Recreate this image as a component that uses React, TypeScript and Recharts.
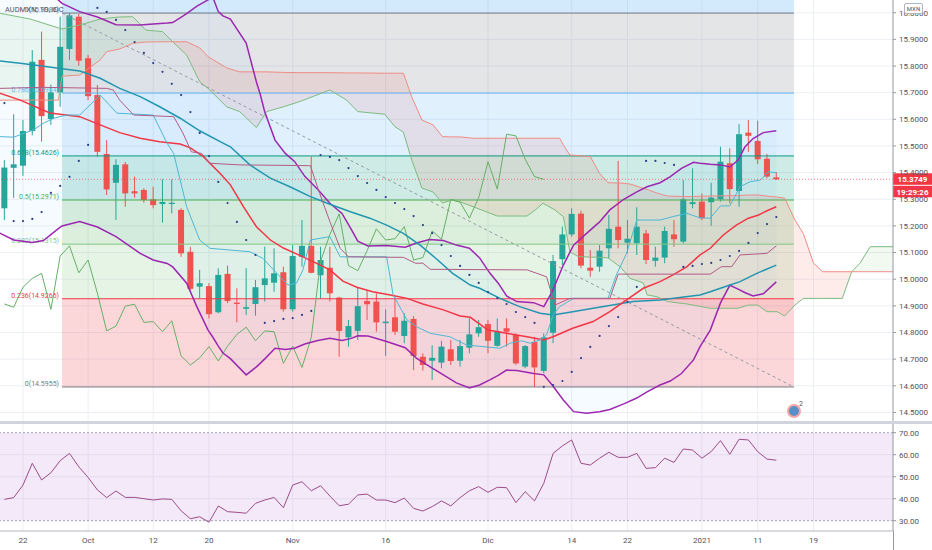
import {
  ComposedChart,
  Bar,
  Line,
  Area,
  XAxis,
  YAxis,
  CartesianGrid,
  ReferenceArea,
  ReferenceLine
} from 'recharts';

// one slot per weekday, bar 0 = 22 Sep 2020
const FIRST_BAR = -2;
const X_DOMAIN: [number, number] = [-2.473, 93.548];
const PRICE_DOMAIN: [number, number] = [14.4679, 16.0477];
const RSI_DOMAIN: [number, number] = [25.32, 73.95];

const dateTicks = [0, 7, 14, 20, 29, 39, 50, 59, 65, 73, 79, 85];
const dateLabels = ['22', 'Oct', '12', '20', 'Nov', '16', 'Dic', '14', '22', '2021', '11', '19'];
const priceTicks = [14.5, 14.6, 14.7, 14.8, 14.9, 15.0, 15.1, 15.2, 15.3, 15.4, 15.5, 15.6, 15.7, 15.8, 15.9, 16.0];
const rsiTicks = [30, 40, 50, 60, 70];

const opens = [
  15.266, 15.418, 15.426, 15.556, 15.823, 15.601, 15.701, 15.864, 15.985, 15.829,
  15.691, 15.47, 15.362, 15.431, 15.33, 15.335, 15.3, 15.282, 15.282, 15.26,
  15.103, 14.972, 14.974, 14.876, 15.02, 14.912, 14.889, 14.907, 14.978, 14.987,
  15.026, 14.887, 15.084, 15.125, 15.015, 15.043, 14.931, 14.782, 14.806, 14.918,
  14.916, 14.835, 14.857, 14.787, 14.851, 14.709, 14.694, 14.687, 14.737, 14.694,
  14.743, 14.797, 14.832, 14.75, 14.816, 14.791, 14.672, 14.764, 14.656, 14.799,
  15.075, 15.168, 15.246, 15.043, 15.047, 15.116, 15.197, 15.137, 15.135, 15.172,
  15.069, 15.081, 15.168, 15.141, 15.282, 15.291, 15.289, 15.3, 15.435, 15.331,
  15.55, 15.519, 15.452, 15.382
];
const highs = [
  15.447, 15.619, 15.597, 15.86, 15.929, 15.73, 15.985, 15.9986, 15.995, 15.841,
  15.729, 15.522, 15.45, 15.44, 15.385, 15.341, 15.347, 15.375, 15.375, 15.266,
  15.122, 15.035, 14.985, 15.041, 15.051, 14.966, 15.041, 14.997, 15.122, 15.116,
  15.047, 15.128, 15.222, 15.46, 15.122, 15.122, 14.934, 14.847, 14.97, 14.957,
  14.947, 14.887, 14.934, 14.872, 14.862, 14.722, 14.752, 14.769, 14.772, 14.772,
  14.853, 14.847, 14.847, 14.853, 14.853, 14.797, 14.753, 14.784, 14.797, 15.091,
  15.197, 15.266, 15.257, 15.11, 15.128, 15.241, 15.444, 15.222, 15.27, 15.185,
  15.122, 15.197, 15.222, 15.372, 15.416, 15.322, 15.362, 15.497, 15.491, 15.582,
  15.597, 15.595, 15.47, 15.402
];
const lows = [
  15.222, 15.305, 15.388, 15.54, 15.516, 15.579, 15.647, 15.823, 15.801, 15.672,
  15.46, 15.316, 15.222, 15.272, 15.306, 15.287, 15.266, 15.212, 15.247, 15.084,
  14.959, 14.928, 14.853, 14.872, 14.91, 14.838, 14.866, 14.863, 14.916, 14.953,
  14.878, 14.878, 15.047, 15.022, 14.928, 14.916, 14.709, 14.747, 14.772, 14.847,
  14.803, 14.712, 14.791, 14.76, 14.659, 14.657, 14.622, 14.666, 14.678, 14.672,
  14.722, 14.784, 14.722, 14.747, 14.747, 14.678, 14.666, 14.5955, 14.647, 14.76,
  15.053, 15.159, 15.041, 15.009, 15.028, 15.078, 15.116, 15.097, 15.091, 15.057,
  15.047, 15.06, 15.122, 15.135, 15.266, 15.222, 15.2, 15.291, 15.285, 15.272,
  15.478, 15.432, 15.379, 15.372
];
const closes = [
  15.419, 15.431, 15.556, 15.816, 15.612, 15.701, 15.872, 15.99, 15.82, 15.687,
  15.478, 15.337, 15.429, 15.322, 15.322, 15.297, 15.278, 15.29, 15.287, 15.097,
  14.964, 14.985, 14.869, 15.016, 14.918, 14.907, 14.895, 14.97, 15.003, 15.022,
  14.887, 15.087, 15.125, 15.024, 15.072, 14.947, 14.806, 14.824, 14.899, 14.906,
  14.838, 14.841, 14.803, 14.844, 14.712, 14.678, 14.705, 14.747, 14.693, 14.749,
  14.793, 14.82, 14.769, 14.806, 14.803, 14.684, 14.749, 14.669, 14.782, 15.068,
  15.168, 15.245, 15.051, 15.032, 15.107, 15.189, 15.147, 15.152, 15.197, 15.072,
  15.081, 15.181, 15.15, 15.3, 15.289, 15.229, 15.306, 15.441, 15.338, 15.544,
  15.538, 15.45, 15.385, 15.3749
];

const parabolicSar = [
  15.661, 15.218, 15.218, 15.226, 15.252, 15.324, 15.35, 15.384, 15.444, 15.504,
  16.018, 16.003, 15.973, 15.935, 15.89, 15.849, 15.811, 15.778, 15.733, 15.691,
  15.627, 15.549, 15.462, 15.365, 15.286, 15.215, 15.147, 15.091, 14.836, 14.843,
  14.851, 14.854, 14.866, 14.881, 15.466, 15.459, 15.447, 15.417, 15.387, 15.361,
  15.335, 15.308, 15.286, 15.263, 15.237, 15.203, 15.173, 15.128, 15.087, 15.05,
  15.016, 14.986, 14.952, 14.929, 14.907, 14.877, 14.858, 14.836, 14.596, 14.603,
  14.618, 14.652, 14.704, 14.746, 14.787, 14.824, 14.858, 14.915, 14.971, 15.444,
  15.444, 15.436, 15.429, 15.046, 15.05, 15.057, 15.061, 15.072, 15.087, 15.106,
  15.136, 15.173, 15.207, 15.233
];

const rsiValues = [
  39.7, 40.5, 46.2, 56.1, 48.5, 51.8, 57.3, 60.6, 54.5, 49.7,
  44.0, 40.5, 43.5, 40.6, 40.6, 40.0, 39.4, 39.9, 39.7, 34.5,
  30.9, 31.8, 29.3, 36.7, 34.1, 33.8, 33.4, 37.9, 39.4, 40.6,
  35.9, 46.2, 47.7, 43.6, 45.9, 41.2, 36.8, 37.5, 41.7, 42.1,
  39.4, 39.4, 38.2, 40.3, 35.6, 34.4, 36.4, 39.0, 36.7, 40.5,
  43.6, 45.5, 42.9, 45.2, 45.0, 38.2, 43.2, 39.0, 47.0, 60.6,
  64.0, 66.7, 56.1, 55.3, 58.4, 61.1, 58.8, 58.8, 60.6, 53.8,
  54.1, 58.4, 56.5, 62.6, 62.1, 58.4, 61.4, 66.4, 60.2, 67.0,
  66.7, 61.4, 58.0, 57.5
];

// [bar, price]
const basisSma: [number, number][] = [
  [-2.5, 15.698], [-0.3, 15.672], [2.9, 15.624], [6.1, 15.61], [8.3, 15.579], [10.4, 15.55],
  [12.6, 15.529], [14.7, 15.516], [16.9, 15.507], [18.0, 15.493], [19.4, 15.46], [21.2, 15.397],
  [22.3, 15.354], [23.7, 15.272], [25.1, 15.197], [26.6, 15.147], [28.0, 15.117], [29.4, 15.095],
  [31.2, 15.066], [33.0, 15.035], [34.4, 14.993], [35.9, 14.97], [37.6, 14.953], [39.5, 14.941],
  [41.3, 14.928], [43.0, 14.907], [45.2, 14.885], [47.0, 14.862], [48.1, 14.857], [50.0, 14.809],
  [52.0, 14.797], [54.2, 14.784], [56.0, 14.772], [57.0, 14.784], [59.1, 14.816], [61.3, 14.841],
  [63.1, 14.878], [64.9, 14.922], [66.7, 14.966], [68.5, 14.991], [69.9, 15.016], [71.4, 15.047],
  [72.8, 15.091], [73.9, 15.116], [75.3, 15.166], [76.7, 15.203], [78.0, 15.229], [79.1, 15.241],
  [80.0, 15.257], [81.0, 15.272]
];
const slowSma: [number, number][] = [
  [-2.5, 15.819], [-0.3, 15.81], [1.8, 15.801], [4.0, 15.791], [6.1, 15.781], [8.3, 15.754],
  [10.4, 15.716], [12.6, 15.685], [14.7, 15.647], [16.9, 15.604], [19.0, 15.557], [21.2, 15.516],
  [22.3, 15.497], [24.4, 15.429], [26.6, 15.379], [28.7, 15.347], [30.9, 15.31], [33.0, 15.281],
  [35.2, 15.253], [37.3, 15.229], [39.1, 15.203], [40.9, 15.172], [42.7, 15.128], [44.5, 15.075],
  [46.2, 15.022], [48.1, 14.978], [49.1, 14.966], [51.3, 14.928], [53.4, 14.897], [55.6, 14.872],
  [57.0, 14.866], [59.1, 14.878], [61.3, 14.891], [63.4, 14.903], [65.6, 14.916], [68.5, 14.922],
  [70.6, 14.931], [72.8, 14.941], [73.9, 14.953], [75.3, 14.97], [77.1, 14.991], [78.9, 15.022],
  [81.0, 15.053]
];
// [bar, upper, lower]
const bollinger: [number, number, number][] = [
  [-2.5, 16.22, 15.173], [-1, 16.205, 15.147], [1, 16.16, 15.138], [2.2, 16.134, 15.145],
  [3.8, 16.048, 15.19], [4.2, 16.035, 15.2], [6.1, 16.004, 15.216], [8, 15.984, 15.196],
  [10, 15.955, 15.16], [12.6, 15.954, 15.097], [14, 15.958, 15.072], [15.5, 15.961, 15.059],
  [16.1, 15.963, 15.046], [17.6, 15.997, 14.985], [18.7, 16.025, 14.896], [19.9, 16.048, 14.809],
  [20.4, 16.059, 14.783], [21, 16.004, 14.749], [21.5, 15.988, 14.723], [22.3, 15.976, 14.702],
  [24, 15.886, 14.641], [25.1, 15.74, 14.671], [25.5, 15.695, 14.684], [26, 15.627, 14.701],
  [27.1, 15.522, 14.741], [28.2, 15.472, 14.736], [29.2, 15.442, 14.741], [30.3, 15.386, 14.757],
  [31.7, 15.337, 14.77], [33, 15.285, 14.778], [34.3, 15.247, 14.77], [35.3, 15.187, 14.778],
  [36, 15.143, 14.788], [37.1, 15.125, 14.787], [39.1, 15.126, 14.766], [41.1, 15.12, 14.743],
  [42.3, 15.136, 14.704], [43.7, 15.149, 14.673], [45.2, 15.145, 14.641], [46.6, 15.128, 14.611],
  [48, 15.116, 14.592], [49.1, 15.08, 14.603], [50.2, 15.023, 14.622], [51.1, 14.985, 14.639],
  [52, 14.937, 14.659], [53.1, 14.916, 14.657], [54.9, 14.912, 14.646], [56, 14.897, 14.641],
  [56.9, 14.953, 14.603], [58.1, 15.053, 14.547], [59.2, 15.128, 14.503], [60.6, 15.172, 14.497],
  [62, 15.215, 14.503], [63.1, 15.26, 14.511], [64.6, 15.3, 14.532], [66, 15.328, 14.554],
  [67.1, 15.347, 14.577], [68.5, 15.362, 14.603], [69.6, 15.385, 14.618], [70.8, 15.416, 14.646],
  [72.1, 15.439, 14.697], [72.8, 15.435, 14.747], [73.9, 15.431, 14.809], [75, 15.429, 14.911],
  [76, 15.421, 14.977], [76.9, 15.447, 14.963], [77.6, 15.495, 14.95], [78.5, 15.528, 14.937],
  [79.6, 15.55, 14.945], [81, 15.557, 14.99]
];
const conversionLine: [number, number][] = [
  [-2.5, 15.535], [-1, 15.533], [1.1, 15.56], [2.2, 15.585], [3.3, 15.604], [4.7, 15.616],
  [6.1, 15.616], [8.3, 15.691], [10.1, 15.623], [14.0, 15.616], [15.5, 15.51], [16.2, 15.472],
  [17.6, 15.272], [19.0, 15.147], [20.1, 15.116], [24.4, 15.103], [25.8, 15.078], [27.3, 15.022],
  [28.5, 14.978], [29.4, 14.985], [30.1, 15.035], [30.9, 15.147], [33.0, 15.16], [34.1, 15.084],
  [39.1, 15.084], [39.8, 14.941], [41.3, 14.847], [42.3, 14.822], [43.8, 14.797], [45.9, 14.784],
  [47.7, 14.753], [51.3, 14.741], [52.4, 14.76], [53.6, 14.769], [54.5, 14.76], [55.6, 14.772],
  [56.3, 14.791], [57.0, 14.866], [57.7, 14.897], [59.2, 14.928], [62.9, 14.928], [63.8, 15.016],
  [64.9, 15.097], [66.0, 15.222], [68.5, 15.222], [69.9, 15.235], [71.4, 15.247], [72.8, 15.23],
  [73.9, 15.229], [75.0, 15.275], [76.0, 15.275], [77.1, 15.347], [78.2, 15.366], [79.3, 15.372],
  [80.1, 15.403], [81.0, 15.4]
];
const baseLine: [number, number][] = [
  [-2.5, 15.716], [2.2, 15.72], [9.0, 15.716], [9.7, 15.71], [10.4, 15.672], [11.9, 15.616],
  [16.2, 15.61], [17.2, 15.548], [18.1, 15.478], [19.2, 15.472], [20.1, 15.435], [23.3, 15.429],
  [30.9, 15.426], [31.9, 15.322], [33.0, 15.216], [34.1, 15.116], [35.0, 15.084], [40.9, 15.082],
  [42.2, 15.06], [43.0, 15.06], [43.8, 15.037], [54.2, 15.035], [56.3, 15.009], [57.2, 14.903],
  [58.8, 14.928], [63.1, 14.928], [64.0, 15.019], [73.9, 15.019], [75.1, 15.047], [76.2, 15.047],
  [77.1, 15.091], [80.0, 15.097], [81.0, 15.125]
];
// [bar, leading span A, leading span B]
const cloud: [number, number, number][] = [
  [-2.5, 15.998, 15.672], [0.8, 15.976, 15.672], [3.8, 15.943, 15.672], [4.2, 15.939, 15.762],
  [6.1, 15.954, 15.766], [8.3, 15.976, 15.823], [9.0, 15.979, 15.854], [10.4, 15.984, 15.864],
  [11.8, 15.985, 15.885], [13.2, 15.935, 15.89], [15.0, 15.929, 15.891], [16.1, 15.891, 15.891],
  [17.6, 15.841, 15.891], [19.0, 15.741, 15.868], [19.9, 15.716, 15.835], [21.9, 15.647, 15.793],
  [23.3, 15.629, 15.778], [25.1, 15.569, 15.778], [26.2, 15.629, 15.778], [28.0, 15.647, 15.776],
  [29.8, 15.667, 15.775], [33.0, 15.71, 15.775], [34.8, 15.672, 15.774], [36.0, 15.629, 15.774],
  [38.9, 15.619, 15.773], [40.0, 15.572, 15.773], [40.9, 15.552, 15.773], [41.8, 15.447, 15.684],
  [42.9, 15.342, 15.597], [44.1, 15.327, 15.579], [45.1, 15.286, 15.535], [46.1, 15.297, 15.534],
  [47.0, 15.29, 15.534], [48.4, 15.272, 15.529], [51.0, 15.237, 15.529], [54.2, 15.237, 15.529],
  [55.1, 15.26, 15.529], [55.9, 15.285, 15.529], [57.2, 15.26, 15.529], [57.7, 15.245, 15.529],
  [58.1, 15.235, 15.504], [58.8, 15.103, 15.466], [59.7, 15.085, 15.464], [61.0, 15.083, 15.46],
  [62.0, 15.082, 15.397], [62.9, 15.08, 15.362], [64.2, 15.047, 15.361], [65.3, 15.003, 15.357],
  [66.7, 14.986, 15.341], [67.1, 14.941, 15.337], [68.2, 14.934, 15.323], [69.3, 14.916, 15.312],
  [71.4, 14.907, 15.31], [73.9, 14.891, 15.312], [76.9, 14.891, 15.314], [78.0, 14.903, 15.316],
  [79.0, 14.903, 15.316], [80.0, 14.878, 15.312], [81.1, 14.878, 15.308], [81.9, 14.862, 15.304],
  [83.0, 14.903, 15.222], [83.9, 14.928, 15.172], [85.0, 14.928, 15.06], [86.0, 14.928, 15.028],
  [88.1, 14.928, 15.028], [89.1, 15.028, 15.028], [90.0, 15.06, 15.028], [91.1, 15.122, 15.028],
  [93.6, 15.122, 15.028]
];

const fibLevels = [0, 0.236, 0.382, 0.5, 0.618, 0.786, 1];
const fibPrices = [14.5955, 14.9266, 15.1315, 15.2971, 15.4626, 15.6984, 15.9986];
const fibColors = ['#787b86', '#f23645', '#81c784', '#4caf50', '#089981', '#64b5f6', '#787b86'];
const FIB_EXT_PRICE = 16.8665;
const FIB_START = 4.2;
const FIB_END = 82.9;
const LAG = 25;
const BODY_W = 6;

const UP = '#26a69a';
const DOWN = '#ef5350';
const AXIS_TEXT = '#50535e';
const GRID = '#eceff4';

const candleRows = opens.map((o, k) => ({ i: FIRST_BAR + k, o, h: highs[k], l: lows[k], c: closes[k] }));
const sarRows = parabolicSar.map((v, k) => ({ i: FIRST_BAR + k, v }));
const rsiRows = rsiValues.map((v, k) => ({ i: FIRST_BAR + k, v }));
const laggingRows = closes.slice(LAG).map((v, k) => ({ i: FIRST_BAR + k, v }));
const toRows = (pts: [number, number][]) => pts.map(([i, v]) => ({ i, v }));
const bbRows = bollinger.map(([i, up, lo]) => ({ i, up, lo, band: [lo, up] }));
const cloudRows = cloud.map(([i, a, b]) => ({ i, a, b }));
const cloudGreen = cloud.map(([i, a, b]) => ({ i, r: a >= b ? [b, a] : null }));
const cloudRed = cloud.map(([i, a, b]) => ({ i, r: a <= b ? [a, b] : null }));
const lastClose = closes[closes.length - 1];

const Candle = (props: any) => {
  const { x, y, width, height, payload } = props;
  if (!payload || x == null || y == null) return null;
  const top = Math.min(y, y + height);
  const span = Math.abs(height);
  const k = payload.h > payload.l ? span / (payload.h - payload.l) : 0;
  const yo = top + (payload.h - payload.o) * k;
  const yc = top + (payload.h - payload.c) * k;
  const color = payload.c >= payload.o ? UP : DOWN;
  const cx = x + (width || 0) / 2;
  const w = width > 2 ? width : BODY_W;
  return (
    <g>
      <line x1={cx} x2={cx} y1={top} y2={top + span} stroke={color} strokeWidth={1} />
      <rect
        x={cx - w / 2}
        y={Math.min(yo, yc)}
        width={w}
        height={Math.max(1, Math.abs(yc - yo))}
        fill={color}
      />
    </g>
  );
};

const fibLabel = (text: string, color: string) => (props: any) => {
  const vb = props.viewBox || {};
  return (
    <text x={vb.x - 3} y={vb.y - 1} textAnchor="end" fontSize={7} fill={color}>
      {text}
    </text>
  );
};

const PriceTag = (props: any) => {
  const vb = props.viewBox || {};
  const x = vb.x + vb.width;
  const y = vb.y;
  return (
    <g>
      <rect x={x} y={y - 6} width={39} height={11.5} fill="#f23645" />
      <text x={x + 19.5} y={y + 2.8} textAnchor="middle" fontSize={8} fontWeight={700} fill="#fff">
        {lastClose.toFixed(4)}
      </text>
      <rect x={x} y={y + 6.5} width={39} height={11.5} fill="#f23645" />
      <text x={x + 19.5} y={y + 15.3} textAnchor="middle" fontSize={8} fontWeight={700} fill="#fff">
        19:29:26
      </text>
    </g>
  );
};

const plainLine = (key: string, data: any[], dataKey: string, color: string, width: number) => (
  <Line
    key={key}
    data={data}
    dataKey={dataKey}
    type="linear"
    stroke={color}
    strokeWidth={width}
    dot={false}
    activeDot={false}
    isAnimationActive={false}
  />
);

const App = () => (
  <div
    style={{
      position: 'absolute',
      left: 0,
      top: 0,
      width: 932,
      height: 550,
      background: '#ffffff',
      fontFamily: 'Roboto, "Liberation Sans", sans-serif',
      overflow: 'hidden'
    }}
  >
    <div style={{ position: 'absolute', left: 0, top: 0 }}>
      <ComposedChart width={932} height={421} data={candleRows} margin={{ top: 0, right: 0, bottom: 0, left: 0 }}>
        <CartesianGrid stroke={GRID} verticalValues={dateTicks} horizontalValues={priceTicks} />
        <XAxis type="number" dataKey="i" domain={X_DOMAIN} ticks={dateTicks} allowDataOverflow hide />
        <YAxis
          orientation="right"
          width={39}
          domain={PRICE_DOMAIN}
          ticks={priceTicks}
          interval={0}
          allowDataOverflow
          tickFormatter={(v: number) => v.toFixed(4)}
          tick={{ fontSize: 8, fill: AXIS_TEXT }}
          tickSize={3}
          tickMargin={3}
          tickLine={{ stroke: '#9598a1' }}
          axisLine={{ stroke: '#9598a1' }}
        />
        {fibPrices.slice(1).map((p, k) => (
          <ReferenceArea
            key={`band-${k}`}
            x1={FIB_START}
            x2={FIB_END}
            y1={fibPrices[k]}
            y2={p}
            fill={fibColors[k + 1]}
            fillOpacity={0.2}
            stroke="none"
            ifOverflow="hidden"
          />
        ))}
        <ReferenceArea
          x1={FIB_START}
          x2={FIB_END}
          y1={fibPrices[fibPrices.length - 1]}
          y2={FIB_EXT_PRICE}
          fill="#2196f3"
          fillOpacity={0.2}
          stroke="none"
          ifOverflow="hidden"
        />
        <Area
          data={bbRows}
          dataKey="band"
          type="linear"
          stroke="none"
          fill="#2196f3"
          fillOpacity={0.04}
          isAnimationActive={false}
          activeDot={false}
        />
        <Area
          data={cloudGreen}
          dataKey="r"
          type="linear"
          stroke="none"
          fill="#4caf50"
          fillOpacity={0.08}
          isAnimationActive={false}
          activeDot={false}
        />
        <Area
          data={cloudRed}
          dataKey="r"
          type="linear"
          stroke="none"
          fill="#f44336"
          fillOpacity={0.1}
          isAnimationActive={false}
          activeDot={false}
        />
        {fibPrices.map((p, k) => (
          <ReferenceLine
            key={`fib-${k}`}
            segment={[{ x: FIB_START, y: p }, { x: FIB_END, y: p }]}
            stroke={fibColors[k]}
            strokeWidth={1}
            label={fibLabel(`${fibLevels[k]}(${p.toFixed(4)})`, fibColors[k])}
          />
        ))}
        <ReferenceLine
          segment={[{ x: FIB_START, y: fibPrices[6] }, { x: FIB_END, y: fibPrices[0] }]}
          stroke="#9598a1"
          strokeDasharray="3 3"
        />
        {plainLine('spanA', cloudRows, 'a', '#7dbb7f', 1)}
        {plainLine('spanB', cloudRows, 'b', '#f08b84', 1)}
        {plainLine('lag', laggingRows, 'v', '#66b066', 1)}
        {plainLine('bbUp', bbRows, 'up', '#9c27b0', 1.5)}
        {plainLine('bbLo', bbRows, 'lo', '#9c27b0', 1.5)}
        {plainLine('slow', toRows(slowSma), 'v', '#2196b0', 1.5)}
        {plainLine('basis', toRows(basisSma), 'v', '#f23645', 1.5)}
        {plainLine('conv', toRows(conversionLine), 'v', '#4db8d4', 1)}
        {plainLine('base', toRows(baseLine), 'v', '#b35c86', 1)}
        <Bar dataKey={(d: any) => [d.l, d.h]} shape={Candle} barSize={BODY_W} isAnimationActive={false} />
        <Line
          data={sarRows}
          dataKey="v"
          stroke="none"
          dot={{ r: 1.1, fill: '#2b3d8c', stroke: 'none' }}
          activeDot={false}
          isAnimationActive={false}
        />
        <ReferenceLine y={lastClose} stroke="#f23645" strokeOpacity={0.6} strokeDasharray="1 2" label={PriceTag} />
      </ComposedChart>
    </div>

    <div style={{ position: 'absolute', left: 0, top: 421, width: 932, height: 3, background: '#d1d4dc' }} />

    <div style={{ position: 'absolute', left: 0, top: 424 }}>
      <ComposedChart width={932} height={126} data={rsiRows} margin={{ top: 0, right: 0, bottom: 0, left: 0 }}>
        <CartesianGrid stroke={GRID} verticalValues={dateTicks} horizontalValues={[40, 50, 60]} />
        <XAxis
          type="number"
          dataKey="i"
          domain={X_DOMAIN}
          ticks={dateTicks}
          interval={0}
          allowDataOverflow
          height={19}
          tickFormatter={(v: number) => dateLabels[dateTicks.indexOf(v)] ?? ''}
          tick={{ fontSize: 8, fill: AXIS_TEXT }}
          tickLine={false}
          tickSize={0}
          tickMargin={6}
          axisLine={{ stroke: '#b2b5be' }}
        />
        <YAxis
          orientation="right"
          width={39}
          domain={RSI_DOMAIN}
          ticks={rsiTicks}
          interval={0}
          allowDataOverflow
          tickFormatter={(v: number) => v.toFixed(2)}
          tick={{ fontSize: 8, fill: AXIS_TEXT }}
          tickSize={3}
          tickMargin={3}
          tickLine={{ stroke: '#9598a1' }}
          axisLine={{ stroke: '#9598a1' }}
        />
        <ReferenceArea y1={30} y2={70} fill="#b36bd6" fillOpacity={0.15} stroke="none" />
        <ReferenceLine y={70} stroke="#a3a6af" strokeDasharray="2 2" />
        <ReferenceLine y={30} stroke="#a3a6af" strokeDasharray="2 2" />
        <Line
          dataKey="v"
          type="linear"
          stroke="#9b4d86"
          strokeWidth={1}
          dot={false}
          activeDot={false}
          isAnimationActive={false}
        />
      </ComposedChart>
    </div>

    <div style={{ position: 'absolute', left: 893, top: 531, width: 1, height: 19, background: '#9598a1' }} />
    <div style={{ position: 'absolute', left: 5, top: 5, fontSize: 7.5, color: AXIS_TEXT, lineHeight: '9px' }}>
      AUDMXN, 1D, IDC
    </div>
    <div
      style={{
        position: 'absolute',
        left: 904,
        top: 3,
        width: 17,
        height: 9,
        border: '1px solid #b2b5be',
        borderRadius: 2,
        background: '#ffffff',
        fontSize: 6,
        lineHeight: '9px',
        textAlign: 'center',
        color: AXIS_TEXT
      }}
    >
      MXN
    </div>
    <div
      style={{
        position: 'absolute',
        left: 787,
        top: 404,
        width: 10,
        height: 10,
        borderRadius: '50%',
        border: '2px solid #f7a6a6',
        background: '#5b8fc7'
      }}
    />
    <div style={{ position: 'absolute', left: 799, top: 400, fontSize: 7, color: AXIS_TEXT }}>2</div>
  </div>
);

export default App;
